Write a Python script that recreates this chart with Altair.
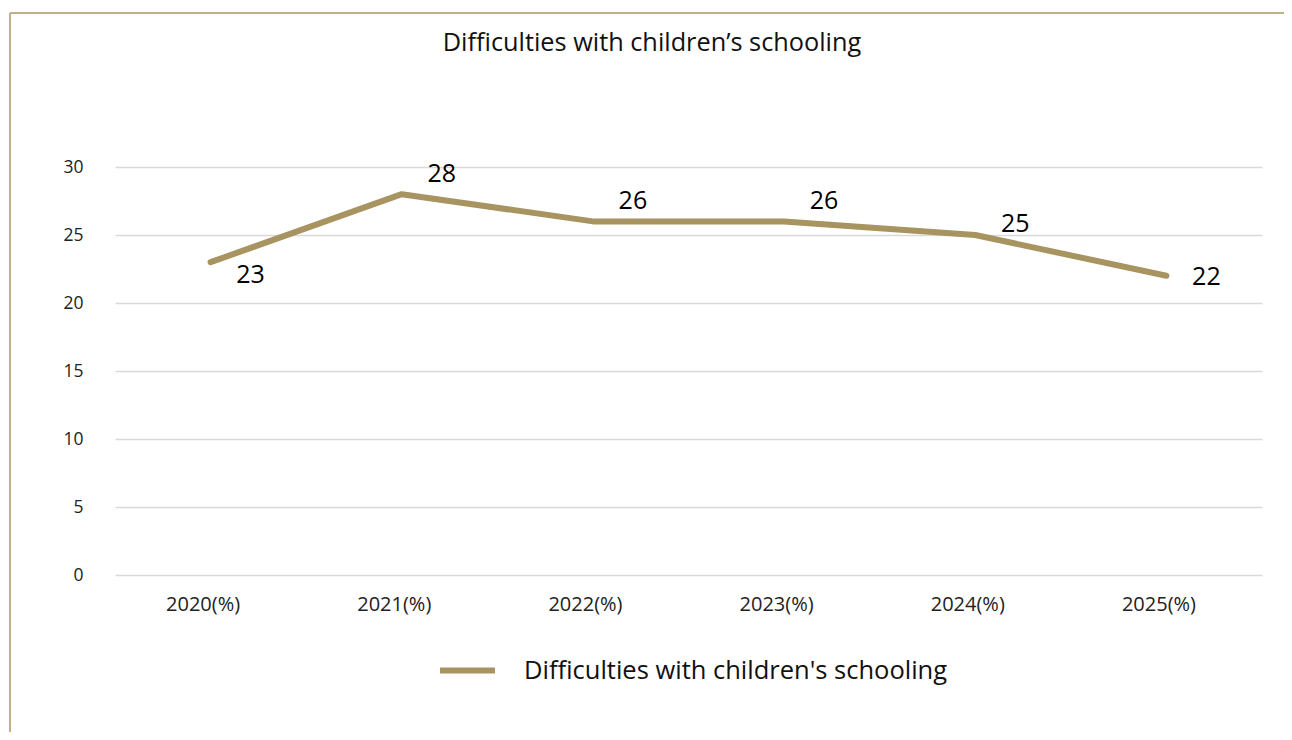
import altair as alt
import pandas as pd

categories = ["2020(%)", "2021(%)", "2022(%)", "2023(%)", "2024(%)", "2025(%)"]
values = [23, 28, 26, 26, 25, 22]
series_name = "Difficulties with children's schooling"
chart_title = "Difficulties with children\u2019s schooling"

df = pd.DataFrame({"year": categories, "value": values, "series": [series_name] * len(categories)})

FONT = "Open Sans"
LINE_COLOR = "#A89461"
FRAME_COLOR = "#BFB08A"

x_enc = alt.X("year:N", sort=categories, scale=alt.Scale(paddingInner=0, paddingOuter=0),
              axis=alt.Axis(title=None, labelAngle=0, labelFontSize=20, labelColor="#222222",
                            labelFont=FONT, labelPadding=19, labelOffset=-8, ticks=False, domain=False, grid=False))
y_enc = alt.Y("value:Q", scale=alt.Scale(domain=[0, 30], nice=False),
              axis=alt.Axis(title=None, values=[0, 5, 10, 15, 20, 25, 30], labelFontSize=17.5,
                            labelColor="#222222", labelFont=FONT, labelPadding=32, ticks=False,
                            domain=False, grid=True, gridColor="#D9D9D9", gridWidth=1.5))

base = alt.Chart(df)

line = base.mark_line(strokeWidth=6, strokeCap="round", strokeJoin="round").encode(
    x=x_enc, y=y_enc,
    color=alt.Color("series:N", scale=alt.Scale(range=[LINE_COLOR]),
                    legend=alt.Legend(title=None, orient="none", legendX=322, legendY=473,
                                      symbolType="stroke", symbolSize=3025, symbolStrokeWidth=6,
                                      symbolStrokeColor=LINE_COLOR, labelFontSize=25.5, labelFont=FONT,
                                      labelColor="#111111", labelOffset=26, labelLimit=700))
)

def labels(cats, dy):
    return base.transform_filter(alt.FieldOneOfPredicate(field="year", oneOf=cats)).mark_text(
        dx=40, dy=dy, fontSize=25, font=FONT, color="#000000", align="center", baseline="middle"
    ).encode(x=alt.X("year:N", sort=categories), y="value:Q", text="value:Q")

lab1 = labels(["2020(%)"], 13)
lab2 = labels(["2021(%)", "2022(%)", "2023(%)"], -20)
lab3 = labels(["2024(%)"], -11)
lab4 = labels(["2025(%)"], 1)

frame_df = pd.DataFrame({"k": [0]})
frame_top = alt.Chart(frame_df).mark_rule(color=FRAME_COLOR, strokeWidth=2, clip=False).encode(
    x=alt.value(-105), x2=alt.value(1180), y=alt.value(-154))
frame_left = alt.Chart(frame_df).mark_rule(color=FRAME_COLOR, strokeWidth=2, clip=False).encode(
    x=alt.value(-105), y=alt.value(-154), y2=alt.value(580))
title = alt.Chart(frame_df).mark_text(fontSize=25.3, font=FONT, color="#111111", align="center",
                                      baseline="middle").encode(
    x=alt.value(537), y=alt.value(-124), text=alt.value(chart_title))

chart = alt.layer(frame_top, frame_left, title, line, lab1, lab2, lab3, lab4).properties(
    width=1147, height=408,
    autosize=alt.AutoSizeParams(type="none"),
    padding={"left": 107, "top": 159, "right": 22, "bottom": 157},
).configure(background="white", view=alt.ViewConfig(strokeWidth=0, stroke="transparent"))

chart.save("out.html", embed_options={"renderer": "svg", "actions": False})
